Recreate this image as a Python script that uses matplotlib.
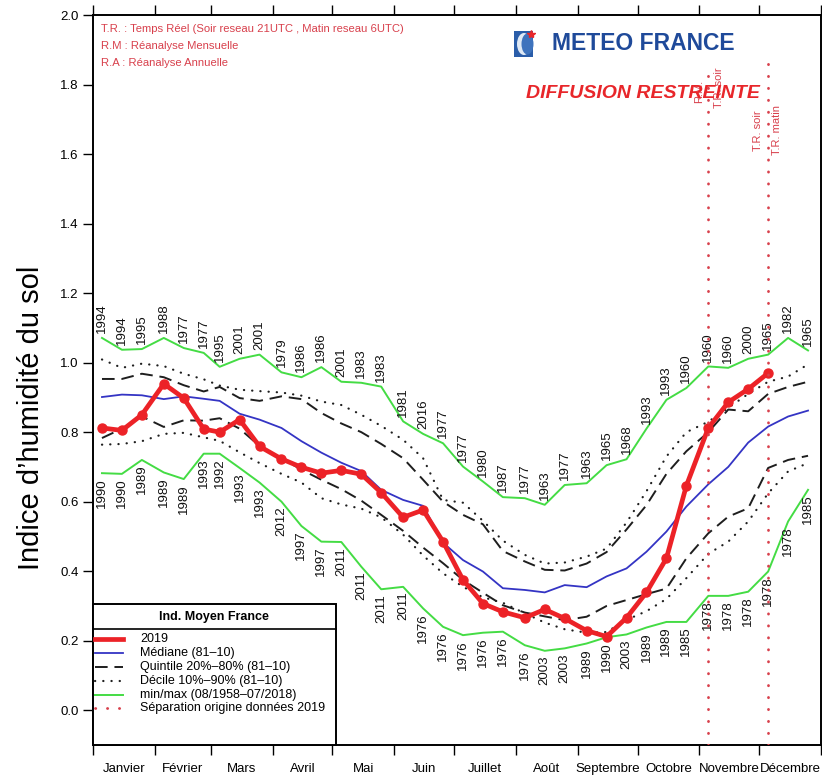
import matplotlib
matplotlib.use('Agg')
import matplotlib.pyplot as plt
import numpy as np
from matplotlib.patches import Rectangle, Ellipse
from matplotlib.lines import Line2D

plt.rcParams['font.family'] = ['Liberation Sans', 'DejaVu Sans']

# ---------------- data ----------------
months = ['Janvier', 'Février', 'Mars', 'Avril', 'Mai', 'Juin', 'Juillet',
          'Août', 'Septembre', 'Octobre', 'Novembre', 'Décembre']
month_days = [31, 28, 31, 30, 31, 30, 31, 31, 30, 31, 30, 31]
dekad_offsets = [4.5, 14.5, 24.5]

y2019 = [0.812, 0.805, 0.850, 0.939, 0.898, 0.809, 0.800, 0.836, 0.759, 0.723,
         0.699, 0.682, 0.690, 0.679, 0.626, 0.555, 0.576, 0.485, 0.375, 0.307,
         0.283, 0.266, 0.290, 0.264, 0.229, 0.212, 0.266, 0.339, 0.437, 0.646,
         0.812, 0.886, 0.924, 0.970]

median = [0.901, 0.908, 0.906, 0.895, 0.903, 0.896, 0.890, 0.853, 0.836, 0.812,
          0.774, 0.741, 0.712, 0.688, 0.634, 0.605, 0.588, 0.482, 0.432, 0.399,
          0.351, 0.346, 0.339, 0.360, 0.354, 0.385, 0.408, 0.456, 0.514, 0.586,
          0.650, 0.700, 0.770, 0.816, 0.845, 0.862]

q80 = [0.953, 0.953, 0.968, 0.958, 0.935, 0.917, 0.930, 0.898, 0.890, 0.903,
       0.895, 0.855, 0.825, 0.800, 0.766, 0.725, 0.663, 0.600, 0.562, 0.535,
       0.458, 0.428, 0.404, 0.402, 0.422, 0.455, 0.520, 0.590, 0.680, 0.745,
       0.800, 0.865, 0.860, 0.910, 0.930, 0.945]

q20 = [0.783, 0.810, 0.845, 0.815, 0.834, 0.833, 0.840, 0.810, 0.760, 0.725,
       0.692, 0.663, 0.636, 0.603, 0.562, 0.516, 0.468, 0.423, 0.375, 0.338,
       0.302, 0.281, 0.270, 0.259, 0.269, 0.300, 0.317, 0.334, 0.350, 0.437,
       0.509, 0.557, 0.581, 0.697, 0.720, 0.732]

d90 = [1.009, 0.985, 0.997, 0.990, 0.968, 0.952, 0.934, 0.922, 0.918, 0.914,
       0.905, 0.888, 0.878, 0.850, 0.818, 0.778, 0.725, 0.605, 0.597, 0.545,
       0.488, 0.447, 0.422, 0.425, 0.442, 0.465, 0.540, 0.630, 0.730, 0.800,
       0.830, 0.870, 0.910, 0.945, 0.960, 0.995]

d10 = [0.764, 0.766, 0.774, 0.795, 0.798, 0.785, 0.775, 0.742, 0.711, 0.680,
       0.655, 0.610, 0.592, 0.580, 0.555, 0.505, 0.445, 0.394, 0.355, 0.325,
       0.309, 0.279, 0.252, 0.233, 0.223, 0.225, 0.260, 0.285, 0.320, 0.380,
       0.450, 0.485, 0.543, 0.624, 0.687, 0.711]

vmax = [1.071, 1.037, 1.039, 1.071, 1.042, 1.028, 0.988, 1.011, 1.023, 0.972,
        0.958, 0.987, 0.945, 0.942, 0.931, 0.831, 0.795, 0.768, 0.701, 0.658,
        0.613, 0.610, 0.591, 0.648, 0.653, 0.705, 0.722, 0.810, 0.893, 0.927,
        0.989, 0.985, 1.011, 1.023, 1.071, 1.035]

vmin = [0.682, 0.680, 0.720, 0.684, 0.665, 0.738, 0.738, 0.697, 0.655, 0.600,
        0.530, 0.485, 0.484, 0.413, 0.348, 0.355, 0.293, 0.240, 0.216, 0.223,
        0.226, 0.187, 0.171, 0.178, 0.192, 0.210, 0.218, 0.238, 0.254, 0.254,
        0.329, 0.329, 0.341, 0.399, 0.543, 0.634]

years_max = ['1994', '1994', '1995', '1988', '1977', '1977', '1995', '2001', '2001',
             '1979', '1986', '1986', '2001', '1983', '1983', '1981', '2016', '1977',
             '1977', '1980', '1987', '1977', '1963', '1977', '1963', '1965', '1968',
             '1993', '1993', '1960', '1960', '1960', '2000', '1965', '1982', '1965']

years_min = ['1990', '1990', '1989', '1989', '1989', '1993', '1992', '1993', '1993',
             '2012', '1997', '1997', '2011', '2011', '2011', '2011', '1976', '1976',
             '1976', '1976', '1976', '1976', '2003', '2003', '1989', '1990', '2003',
             '1989', '1989', '1985', '1978', '1978', '1978', '1978', '1978', '1985']

sep_days = [308.5, 338.5]
sep_tops = [1.836, 1.891]

# ---------------- derived positions ----------------
month_starts = np.concatenate([[0], np.cumsum(month_days)])
x_days = np.array([s + o for s in month_starts[:-1] for o in dekad_offsets])
month_mids = (month_starts[:-1] + month_starts[1:]) / 2

RED = '#ec2227'
TXT_RED = '#d8404c'
GREEN = '#44dc44'
BLUE = '#3434c4'
DARK = '#1e1e1e'

W, H = 822, 775
fig = plt.figure(figsize=(W / 100, H / 100), dpi=100)
ax = fig.add_axes([93 / W, 1 - 745 / H, 728 / W, 730 / H])
ax.set_xlim(0, 365)
ax.set_ylim(-0.1, 2.0)

dash = (0, (6.5, 3.5))
dot = (0, (0.1, 3.6))
sep_dot = (0, (0.1, 4.2))

ax.plot(x_days, vmax, color=GREEN, lw=1.4, zorder=2)
ax.plot(x_days, vmin, color=GREEN, lw=1.4, zorder=2)
ax.plot(x_days, d90, color=DARK, lw=1.6, ls=dot, dash_capstyle='round', zorder=3)
ax.plot(x_days, d10, color=DARK, lw=1.6, ls=dot, dash_capstyle='round', zorder=3)
ax.plot(x_days, q80, color=DARK, lw=1.4, ls=dash, zorder=3)
ax.plot(x_days, q20, color=DARK, lw=1.4, ls=dash, zorder=3)
ax.plot(x_days, median, color=BLUE, lw=1.3, zorder=4)
ax.plot(x_days[:len(y2019)], y2019, color=RED, lw=3.4, marker='o', ms=6.5,
        zorder=6)

for xd, top in zip(sep_days, sep_tops):
    ax.plot([xd, xd], [-0.1, top], color=TXT_RED, lw=2.0, ls=sep_dot,
            dash_capstyle='round', zorder=7)

# year labels
for xd, v, yr in zip(x_days, vmax, years_max):
    ax.annotate(yr, (xd, v), xytext=(0, 3.5), textcoords='offset points',
                rotation=90, ha='center', va='bottom', fontsize=9.5,
                color='#111111', zorder=5)
for xd, v, yr in zip(x_days, vmin, years_min):
    ax.annotate(yr, (xd, v), xytext=(0, -3.5), textcoords='offset points',
                rotation=90, ha='center', va='top', fontsize=9.5,
                color='#111111', zorder=5)

# separation labels
lab_kw = dict(rotation=90, fontsize=8, color=TXT_RED, va='top', ha='center',
              zorder=9)
ax.text(sep_days[0] - 4.5, 1.813, 'R.M.', **lab_kw)
ax.text(sep_days[0] + 5.5, 1.848, 'T.R. soir', **lab_kw)
ax.text(sep_days[1] - 5.2, 1.727, 'T.R. soir', **lab_kw)
ax.text(sep_days[1] + 4.3, 1.741, 'T.R. matin', **lab_kw)

# axes styling
ax.set_xticks(month_starts)
ax.set_xticklabels([])
ax.set_xticks(month_mids, minor=True)
ax.set_xticklabels(months, minor=True, fontsize=9.5)
ax.tick_params(axis='x', which='major', direction='out', length=7, width=1,
               top=True, bottom=True)
ax.tick_params(axis='x', which='minor', length=0, pad=13)
yt = np.round(np.arange(0, 2.01, 0.2), 1)
ax.set_yticks(yt)
ax.set_yticklabels(['%.1f' % v for v in yt], fontsize=9.5)
ax.tick_params(axis='y', direction='out', length=7, width=1)
for sp in ax.spines.values():
    sp.set_linewidth(1.4)

fig.text(31 / W, 1 - 418 / H, 'Indice d’humidité du sol', rotation=90,
         ha='center', va='center', fontsize=21)

# legend (manual)
def ay(py):
    return (745 - py) / 730

def axx(px):
    return (px - 93) / 728

ax.add_patch(Rectangle((0, 0), axx(336), ay(604), transform=ax.transAxes,
                       facecolor='white', edgecolor='black', lw=1.4,
                       zorder=20, clip_on=False))
ax.add_line(Line2D([0, axx(336)], [ay(629), ay(629)], transform=ax.transAxes,
                   color='black', lw=1.2, zorder=21))
ax.text(axx(214), ay(617), 'Ind. Moyen France', transform=ax.transAxes,
        ha='center', va='center', fontsize=9, fontweight='bold', zorder=21)
entries = [
    ('2019', dict(color=RED, lw=3.4)),
    ('Médiane (81–10)', dict(color=BLUE, lw=1.3)),
    ('Quintile 20%–80% (81–10)', dict(color=DARK, lw=1.4, ls=(0, (6.5, 3.5)))),
    ('Décile 10%–90% (81–10)', dict(color=DARK, lw=1.6, ls=dot,
                                     dash_capstyle='round')),
    ('min/max (08/1958–07/2018)', dict(color=GREEN, lw=1.4)),
    ('Séparation origine données 2019', dict(color=TXT_RED, lw=2.0, ls=sep_dot,
                                             dash_capstyle='round')),
]
ys = [639, 653, 667, 681, 695, 708]
for (lab, kw), py in zip(entries, ys):
    ax.add_line(Line2D([axx(95), axx(123)], [ay(py), ay(py)],
                       transform=ax.transAxes, zorder=21, **kw))
    ax.text(axx(140), ay(py), lab, transform=ax.transAxes, ha='left',
            va='center', fontsize=9, zorder=21)

# overlay for header texts / logo
ov = fig.add_axes([0, 0, 1, 1], zorder=10)
ov.set_xlim(0, W)
ov.set_ylim(H, 0)
ov.axis('off')
ov.patch.set_alpha(0)

hdr = ['T.R. : Temps Réel (Soir reseau 21UTC , Matin reseau 6UTC)',
       'R.M : Réanalyse Mensuelle',
       'R.A : Réanalyse Annuelle']
for t, py in zip(hdr, [29, 46, 63]):
    ov.text(101, py, t, fontsize=8.1, color=TXT_RED, ha='left', va='center')

# Meteo France logo
ov.add_patch(Rectangle((514, 31), 19, 26, facecolor='#2a5da9', edgecolor='none'))
ov.add_patch(Ellipse((524, 44), 14, 22, facecolor='#dfe9f5', edgecolor='none'))
ov.add_patch(Ellipse((527.5, 44), 12, 21, facecolor='#3e73bd', edgecolor='none'))
ov.plot([531], [34], marker='*', color='#e8262a', ms=6)
ov.text(552, 44, 'METEO FRANCE', fontsize=16.5, fontweight='bold',
        color='#1f4a9a', ha='left', va='center')
ov.text(643, 93, 'DIFFUSION RESTREINTE', fontsize=14, fontweight='bold',
        fontstyle='italic', color='#e8262a', ha='center', va='center')

fig.savefig('out.png', dpi=100)
